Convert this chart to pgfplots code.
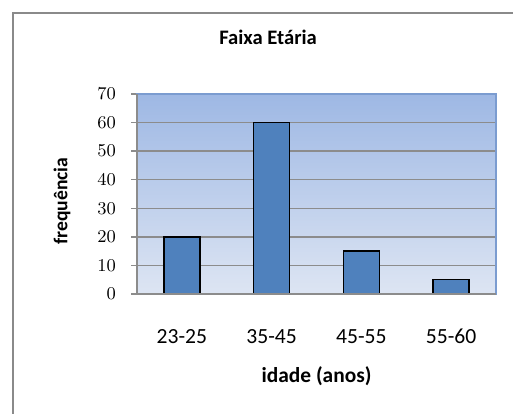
\documentclass[border=0pt]{standalone}
\usepackage{pgfplots}
\pgfplotsset{compat=1.18}
\usepackage{fontspec}
\setmainfont{Carlito}

\definecolor{barblue}{HTML}{4F81BD}
\definecolor{bgtop}{HTML}{9EB8E4}
\definecolor{bgbottom}{HTML}{DDE5F3}
\definecolor{plotedge}{HTML}{7B9CD0}
\definecolor{gridgray}{HTML}{8C8C8C}
\definecolor{framegray}{HTML}{8A8A8A}

\begin{document}
\begin{tikzpicture}
% picture area: 513 x 413 units of 0.5pt, origin at top left
\useasboundingbox (0,0) rectangle (256.5pt,-206.5pt);
\clip (0,0) rectangle (256.5pt,-206.5pt);
\fill[white] (0,0) rectangle (256.5pt,-206.5pt);
% chart frame (continues past the right and bottom edges)
\draw[framegray, line width=1pt] (6.5pt,-300pt) rectangle (300pt,-6.5pt);

\begin{axis}[
  at={(68.5pt,-147pt)}, anchor=south west,
  scale only axis, width=179.5pt, height=100pt,
  xmin=-0.5, xmax=3.5, ymin=0, ymax=70,
  ybar, bar width=18pt,
  xtick=data,
  xticklabels={23-25,35-45,45-55,55-60},
  ytick={0,10,...,70},
  ytick pos=left,
  tick align=outside,
  major tick length=3pt,
  major x tick style={draw=none},
  major y tick style={gridgray, line width=0.75pt},
  ymajorgrids,
  major grid style={gridgray, line width=0.75pt},
  axis line style={plotedge, line width=0.75pt},
  axis background/.style={shade, top color=bgtop, bottom color=bgbottom},
  xticklabel style={font=\fontsize{10.8}{12}\selectfont, anchor=base, yshift=-21.5pt},
  yticklabel style={font=\fontsize{9.5}{11}\selectfont, xshift=-4pt},
  title={\bfseries Faixa Etária},
  title style={font=\fontsize{10.3}{12}\selectfont, at={(rel axis cs:0.365,1.225)}, anchor=center},
  xlabel={\bfseries idade (anos)},
  xlabel style={font=\fontsize{10.7}{12}\selectfont, at={(rel axis cs:0.5,-0.41)}, anchor=center},
  ylabel={\bfseries frequência},
  ylabel style={font=\fontsize{9.8}{11}\selectfont, at={(rel axis cs:-0.209,0.465)}, anchor=center},
  after end axis/.code={
    \draw[gridgray, line width=0.9pt] (rel axis cs:0,0) -- (rel axis cs:0,1);
    \draw[gridgray, line width=0.9pt] ([xshift=-3pt]rel axis cs:0,0) -- (rel axis cs:1,0);
  },
]
\addplot[fill=barblue, draw=black, line width=0.7pt] coordinates {(0,20) (1,60) (2,15) (3,5)};
\end{axis}
\end{tikzpicture}
\end{document}
